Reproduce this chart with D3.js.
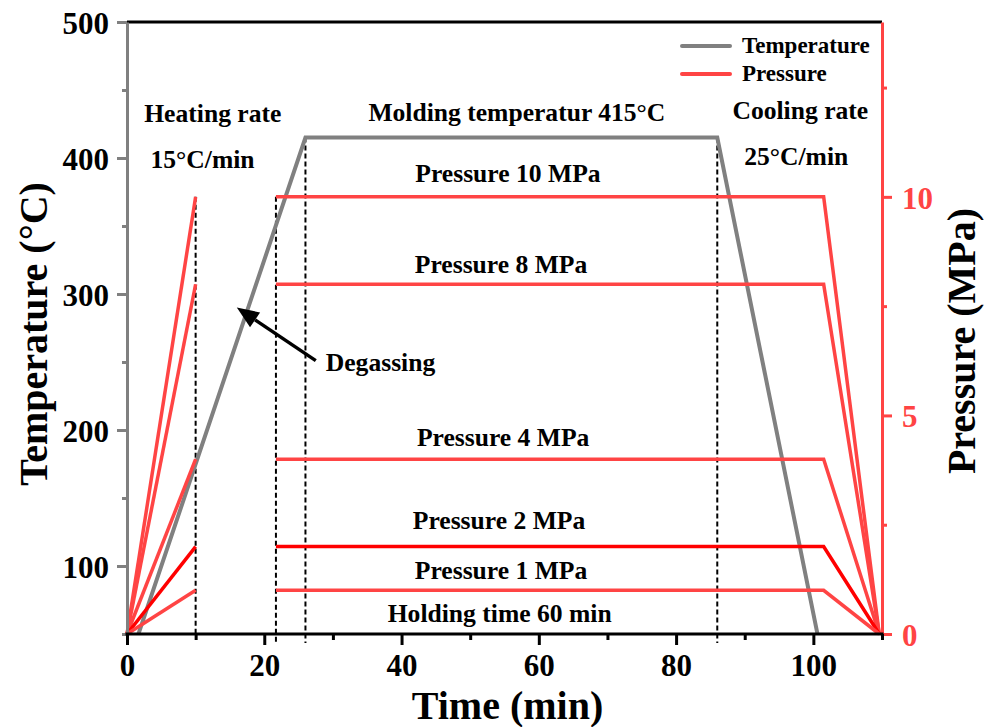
<!DOCTYPE html>
<html>
<head>
<meta charset="utf-8">
<script src="https://cdn.jsdelivr.net/npm/d3@7"></script>
<style>
  html, body { margin: 0; padding: 0; background: #fff; }
  svg { display: block; font-family: "Liberation Serif", "Times New Roman", serif; font-weight: bold; }
</style>
</head>
<body>
<svg id="chart" width="992" height="727"></svg>
<script>
// ---------------- data ----------------
const xTicks = [0, 20, 40, 60, 80, 100];
const xMinorTicks = [10, 30, 50, 70, 90, 110];
const tTicks = [100, 200, 300, 400, 500];
const tMinorTicks = [50, 150, 250, 350, 450];
const pTicks = [0, 5, 10];
const pMinorTicks = [2.5, 7.5, 12.5];

// temperature profile (min, °C): 15 °C/min heating, 60 min hold, 25 °C/min cooling
const tempTimes = [0, 26, 86, 101.6];
const tempValues = [25, 415, 415, 25];

// pressure levels (MPa)
const pressureLevels = [10, 8, 4, 2, 1];
const pressureColors = ["#ff4444", "#ff4444", "#ff4444", "#ff0000", "#ff4444"];
const riseTimes = [0, 10];              // pressure ramp up during heating
const holdTimes = [21.7, 101.5, 109.6]; // hold then release

// vertical dashed guide lines: time, top value, axis
const guideTimes = [10, 21.7, 26, 86];
const guideTops = [10, 10, 415, 415];
const guideAxis = ["p", "p", "t", "t"];

// annotations (time, temperature at baseline)
const labelTexts = ["Heating rate", "15°C/min", "Molding temperatur 415°C", "Cooling rate", "25°C/min",
  "Pressure 10 MPa", "Pressure 8 MPa", "Pressure 4 MPa", "Pressure 2 MPa", "Pressure 1 MPa", "Holding time 60 min"];
const labelTimes = [12.5, 11.0, 56.8, 98.1, 97.5, 55.5, 54.5, 54.8, 54.2, 54.5, 54.3];
const labelTemps = [426.5, 393, 427.5, 428.5, 394.5, 382.5, 315.5, 188.5, 127, 90.5, 59];

const arrowFrom = [27.5, 251];   // (time, °C)
const arrowTo = [16.0, 290];
const arrowLabel = "Degassing";

// ---------------- layout ----------------
const svg = d3.select("#chart");
const L = 127, R = 882, T = 22, B = 634;
const x = d3.scaleLinear().domain([0, 110]).range([L, R]);
const yT = d3.scaleLinear().domain([50, 500]).range([B, T]);
const yP = d3.scaleLinear().domain([0, 14]).range([B, T]);

const grey = "#808080", red = "#ff4444";
const FONT = "'Liberation Serif', 'Times New Roman', serif";

svg.append("defs").append("clipPath").attr("id", "clip")
  .append("rect").attr("x", L).attr("y", T).attr("width", R - L).attr("height", B - T);

// dashed guides
guideTimes.forEach((t, i) => {
  const yTop = guideAxis[i] === "p" ? yP(guideTops[i]) : yT(guideTops[i]);
  const yBot = i === 0 ? B : B + 9;
  svg.append("line")
    .attr("x1", x(t)).attr("x2", x(t)).attr("y1", yTop).attr("y2", yBot)
    .attr("stroke", "#000").attr("stroke-width", 2).attr("stroke-dasharray", "5,3");
});

const plot = svg.append("g").attr("clip-path", "url(#clip)");

// temperature line
const tempLine = d3.line().x(d => x(d[0])).y(d => yT(d[1]));
plot.append("path")
  .datum(tempTimes.map((t, i) => [t, tempValues[i]]))
  .attr("d", tempLine).attr("fill", "none").attr("stroke", grey).attr("stroke-width", 4)
  .attr("stroke-linejoin", "miter");

// pressure lines
const pLine = d3.line().x(d => x(d[0])).y(d => yP(d[1]));
pressureLevels.forEach((p, i) => {
  const rise = [[riseTimes[0], 0], [riseTimes[1], p]];
  const hold = [[holdTimes[0], p], [holdTimes[1], p], [holdTimes[2], 0]];
  [rise, hold].forEach(seg => {
    svg.append("path").datum(seg).attr("d", pLine)
      .attr("fill", "none").attr("stroke", pressureColors[i]).attr("stroke-width", 3.5)
      .attr("stroke-linejoin", "miter");
  });
});

// ---------------- axes ----------------
svg.append("line").attr("x1", L).attr("x2", R).attr("y1", T).attr("y2", T)
  .attr("stroke", "#000").attr("stroke-width", 3);

function styleAxis(g, color) {
  g.select(".domain").attr("stroke", color).attr("stroke-width", 3);
  g.selectAll(".tick line").attr("stroke", color).attr("stroke-width", 3);
  g.selectAll(".tick text").attr("fill", color === grey ? "#000" : color)
    .style("font-family", FONT).style("font-weight", "bold").style("font-size", "31px");
}

// left (temperature)
const gLm = svg.append("g").attr("transform", `translate(${L},0)`)
  .call(d3.axisLeft(yT).tickValues(tMinorTicks).tickSize(5).tickFormat(""));
gLm.select(".domain").remove();
gLm.selectAll(".tick line").attr("stroke", grey).attr("stroke-width", 3);
const gL = svg.append("g").attr("transform", `translate(${L},0)`)
  .call(d3.axisLeft(yT).tickValues(tTicks).tickSize(10).tickSizeOuter(0).tickPadding(8));
styleAxis(gL, grey);
gL.selectAll(".tick text").attr("dy", "0.36em");

// right (pressure)
const gRm = svg.append("g").attr("transform", `translate(${R},0)`)
  .call(d3.axisRight(yP).tickValues(pMinorTicks).tickSize(5).tickFormat(""));
gRm.select(".domain").remove();
gRm.selectAll(".tick line").attr("stroke", red).attr("stroke-width", 3);
const gR = svg.append("g").attr("transform", `translate(${R},0)`)
  .call(d3.axisRight(yP).tickValues(pTicks).tickSize(10).tickSizeOuter(0).tickPadding(10));
styleAxis(gR, red);
gR.selectAll(".tick text").attr("dy", "0.36em");

// bottom (time)
const gBm = svg.append("g").attr("transform", `translate(0,${B})`)
  .call(d3.axisBottom(x).tickValues(xMinorTicks).tickSize(6).tickFormat(""));
gBm.select(".domain").remove();
gBm.selectAll(".tick line").attr("stroke", "#000").attr("stroke-width", 3);
const gB = svg.append("g").attr("transform", `translate(0,${B})`)
  .call(d3.axisBottom(x).tickValues(xTicks).tickSize(11).tickSizeOuter(0).tickPadding(9));
styleAxis(gB, "#000");
gB.select(".domain").attr("d", `M${L - 1.5},0H${R + 1.5}`);

// axis titles
svg.append("text").attr("x", (L + R) / 2 + 3).attr("y", 719)
  .attr("text-anchor", "middle").style("font-size", "40px").text("Time (min)");
svg.append("text").attr("transform", `translate(47,334) rotate(-90)`)
  .attr("text-anchor", "middle").style("font-size", "40px").text("Temperature (°C)");
svg.append("text").attr("transform", `translate(975,341) rotate(-90)`)
  .attr("text-anchor", "middle").style("font-size", "40px").text("Pressure (MPa)");

// annotations
labelTexts.forEach((s, i) => {
  svg.append("text").attr("x", x(labelTimes[i])).attr("y", yT(labelTemps[i]))
    .attr("text-anchor", "middle").style("font-size", "25.6px").attr("fill", "#000").text(s);
});

// degassing arrow
const ax1 = x(arrowFrom[0]), ay1 = yT(arrowFrom[1]);
const ax2 = x(arrowTo[0]), ay2 = yT(arrowTo[1]);
const ang = Math.atan2(ay2 - ay1, ax2 - ax1);
const headLen = 22, headW = 9;
const bx = ax2 - headLen * Math.cos(ang), by = ay2 - headLen * Math.sin(ang);
svg.append("line").attr("x1", ax1).attr("y1", ay1).attr("x2", bx).attr("y2", by)
  .attr("stroke", "#000").attr("stroke-width", 3.5);
svg.append("path")
  .attr("d", `M${ax2},${ay2}L${bx + headW * Math.sin(ang)},${by - headW * Math.cos(ang)}L${bx - headW * Math.sin(ang)},${by + headW * Math.cos(ang)}Z`)
  .attr("fill", "#000");
svg.append("text").attr("x", ax1 + 10).attr("y", ay1 + 10)
  .style("font-size", "25.6px").text(arrowLabel);

// legend
const legendItems = ["Temperature", "Pressure"];
const legendColors = [grey, red];
legendItems.forEach((s, i) => {
  const yy = 46 + i * 28;
  svg.append("line").attr("x1", 682).attr("x2", 730).attr("y1", yy).attr("y2", yy)
    .attr("stroke", legendColors[i]).attr("stroke-width", 4).attr("stroke-linecap", "round");
  svg.append("text").attr("x", 742).attr("y", yy + 7).style("font-size", "23px").text(s);
});
</script>
</body>
</html>
